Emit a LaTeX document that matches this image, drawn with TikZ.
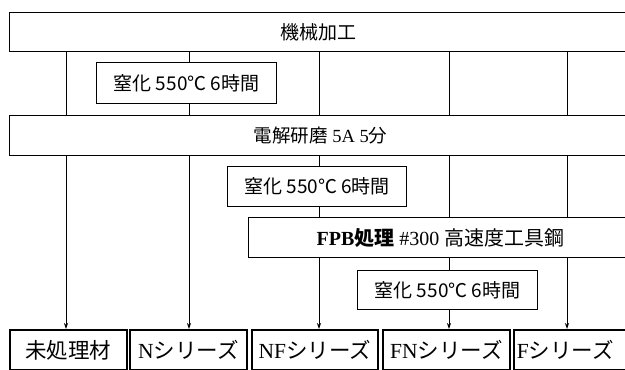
\documentclass[tikz,border=0pt]{standalone}
\usepackage{fontspec}
\setmainfont{Liberation Serif}
\newfontfamily\jp{Noto Sans CJK JP}
\usetikzlibrary{arrows.meta}
\begin{document}
\begin{tikzpicture}[x=1pt,y=-1pt,
  box/.style={draw,line width=1.2pt,inner sep=0pt,anchor=north west},
  nitbox/.style={box,font=\fontsize{19}{21}\selectfont\jp},
  endbox/.style={draw,line width=1.8pt,inner sep=0pt,anchor=north west,minimum height=40pt,font=\fontsize{21.5}{24}\selectfont},
  ln/.style={line width=0.8pt},
  arr/.style={ln,-{Stealth[length=6pt,width=4pt]}}]
\useasboundingbox (0,0) rectangle (625,370);
\fill[white] (0,0) rectangle (625,370);
% process boxes
\node[box,font=\fontsize{19}{21}\selectfont,minimum width=618pt,minimum height=39pt] (m1) at (9,12) {\jp 機械加工};
\node[nitbox,minimum width=180pt,minimum height=41pt] (n1) at (96,62) {窒化 550℃ 6時間};
\node[box,font=\fontsize{18.5}{21}\selectfont,minimum width=622pt,minimum height=40pt] (m2) at (9,115) {{\jp 電解研磨} 5A 5{\jp 分}};
\node[nitbox,minimum width=179pt,minimum height=40pt] (n2) at (227,166) {窒化 550℃ 6時間};
\node[box,font=\fontsize{20}{22}\selectfont,minimum width=384pt,minimum height=40pt] (fpb) at (248,217) {\textbf{FPB{\jp 処理}} \#300 {\jp 高速度工具鋼}};
\node[nitbox,minimum width=180pt,minimum height=39pt] (n3) at (357,270) {窒化 550℃ 6時間};
% result boxes
\node[endbox,minimum width=117pt] (b1) at (9,329) {\jp 未処理材};
\node[endbox,minimum width=117pt] (b2) at (129,329) {N{\jp シリーズ}};
\node[endbox,minimum width=126pt] (b3) at (251,329) {NF{\jp シリーズ}};
\node[endbox,minimum width=127pt] (b4) at (382,329) {FN{\jp シリーズ}};
\node[endbox,text width=124pt,inner xsep=3pt,align=left] (b5) at (513,329) {F{\jp シリーズ}};
% arrow targets
\coordinate (t1) at (66,329);
\coordinate (t2) at (189,329);
\coordinate (t3) at (319,329);
\coordinate (t4) at (449,329);
\coordinate (t5) at (567,329);
% column 1
\draw[ln] (m1.south -| t1) -- (m2.north -| t1);
\draw[arr] (m2.south -| t1) -- (t1);
% column 2
\draw[ln] (m1.south -| t2) -- (n1.north -| t2);
\draw[ln] (n1.south -| t2) -- (m2.north -| t2);
\draw[arr] (m2.south -| t2) -- (t2);
% column 3
\draw[ln] (m1.south -| t3) -- (m2.north -| t3);
\draw[ln] (m2.south -| t3) -- (n2.north -| t3);
\draw[ln] (n2.south -| t3) -- (fpb.north -| t3);
\draw[arr] (fpb.south -| t3) -- (t3);
% column 4
\draw[ln] (m1.south -| t4) -- (m2.north -| t4);
\draw[ln] (m2.south -| t4) -- (fpb.north -| t4);
\draw[ln] (fpb.south -| t4) -- (n3.north -| t4);
\draw[arr] (n3.south -| t4) -- (t4);
% column 5
\draw[ln] (m1.south -| t5) -- (m2.north -| t5);
\draw[ln] (m2.south -| t5) -- (fpb.north -| t5);
\draw[arr] (fpb.south -| t5) -- (t5);
\end{tikzpicture}
\end{document}
